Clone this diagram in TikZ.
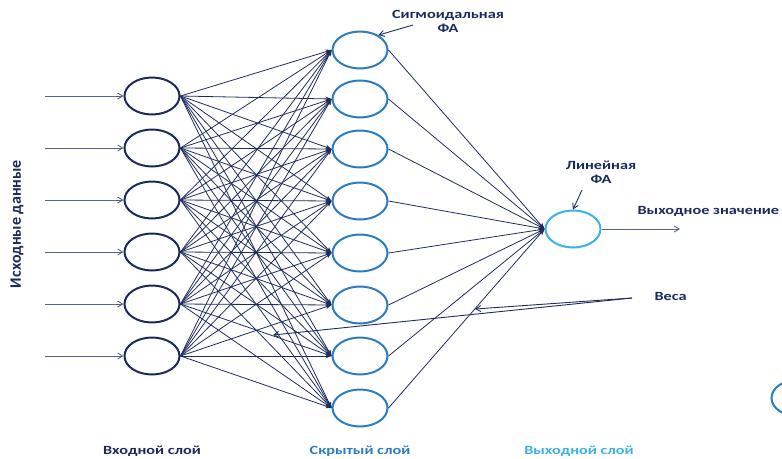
\documentclass[tikz,border=0pt]{standalone}
\usepackage{fontspec}
\setmainfont{Carlito}
\usetikzlibrary{shapes.geometric,arrows.meta}

\definecolor{navy}{HTML}{1B2A5E}
\definecolor{linenavy}{HTML}{1F2D5C}
\definecolor{grayblue}{HTML}{55638A}
\definecolor{hidblue}{HTML}{2B7CC0}
\definecolor{outblue}{HTML}{3BB2E8}

\begin{document}
\begin{tikzpicture}[x=1pt, y=-1pt]
		\tikzstyle{every node} = [font = \bfseries\fontsize{12.5}{14}\selectfont, text = navy]
		\tikzstyle{neuron} = [ellipse, line width = 2pt, minimum width = 55pt, minimum height = 37pt, inner sep = 0pt, fill = white]
		\tikzstyle{syn} = [linenavy, line width = .8pt, -{Stealth[length = 6pt, width = 4.5pt]}]
		\tikzstyle{feed} = [grayblue, line width = .9pt, -{Straight Barb[length = 5pt, width = 6pt]}]

		\useasboundingbox (0,0) rectangle (782,458);
		\clip (0,0) rectangle (782,458);

		% layers
		\foreach \i in {1,...,6}
		{
			\node [neuron, draw = navy] (in\i) at (152, 44+52*\i) {};
			\coordinate (src\i) at (45, 44+52*\i);
			\draw [feed] (src\i) -- (in\i.west);
		}
		\foreach \j/\y in {1/50, 2/99, 3/149, 4/201, 5/253, 6/305, 7/356, 8/408}
			\node [neuron, draw = hidblue] (h\j) at (360, \y) {};
		\node [neuron, draw = outblue] (out) at (573, 229) {};
		\node [neuron, draw = hidblue] (cut) at (799, 398) {};

		% weights
		\foreach \i in {1,...,6}
			\foreach \j in {1,...,8}
				\draw [syn] (in\i.east) -- (h\j.west);
		\foreach \j in {1,...,8}
			\draw [syn] (h\j.east) -- (out.west);

		\coordinate (res) at (680, 229);
		\draw [feed] (out.east) -- (res);

		% labels
		\node [rotate = 90, font = \bfseries\fontsize{16}{18}\selectfont] (data) at (17, 224) {Исходные данные};
		\node [align = center, xscale = 1.3] (sig) at (448, 21) {Сигмоидальная\\ФА};
		\node [align = center, xscale = 1.3] (lin) at (601, 172) {Линейная\\ФА};
		\node [anchor = west, xscale = 1.3] (val) at (633, 211) {Выходное значение};
		\node [anchor = west, xscale = 1.3] (wts) at (650, 296) {Веса};

		\coordinate (sigtail) at (413, 25);
		\coordinate (lintail) at (582, 190);
		\coordinate (wtail) at (632, 298);
		\coordinate (w1) at (475, 309);
		\coordinate (w2) at (273, 335);
		\draw [feed, linenavy] (sigtail) -- (h1.39);
		\draw [feed, linenavy] (lintail) -- (out.north);
		\draw [feed, linenavy] (wtail) -- (w1);
		\draw [feed, linenavy] (wtail) -- (w2);

		\node [xscale = 1.3] (inlab) at (152, 451) {Входной слой};
		\node [xscale = 1.3, text = hidblue] (hidlab) at (360, 451) {Скрытый слой};
		\node [xscale = 1.3, text = outblue] (outlab) at (579, 451) {Выходной слой};
	\end{tikzpicture}
\end{document}
